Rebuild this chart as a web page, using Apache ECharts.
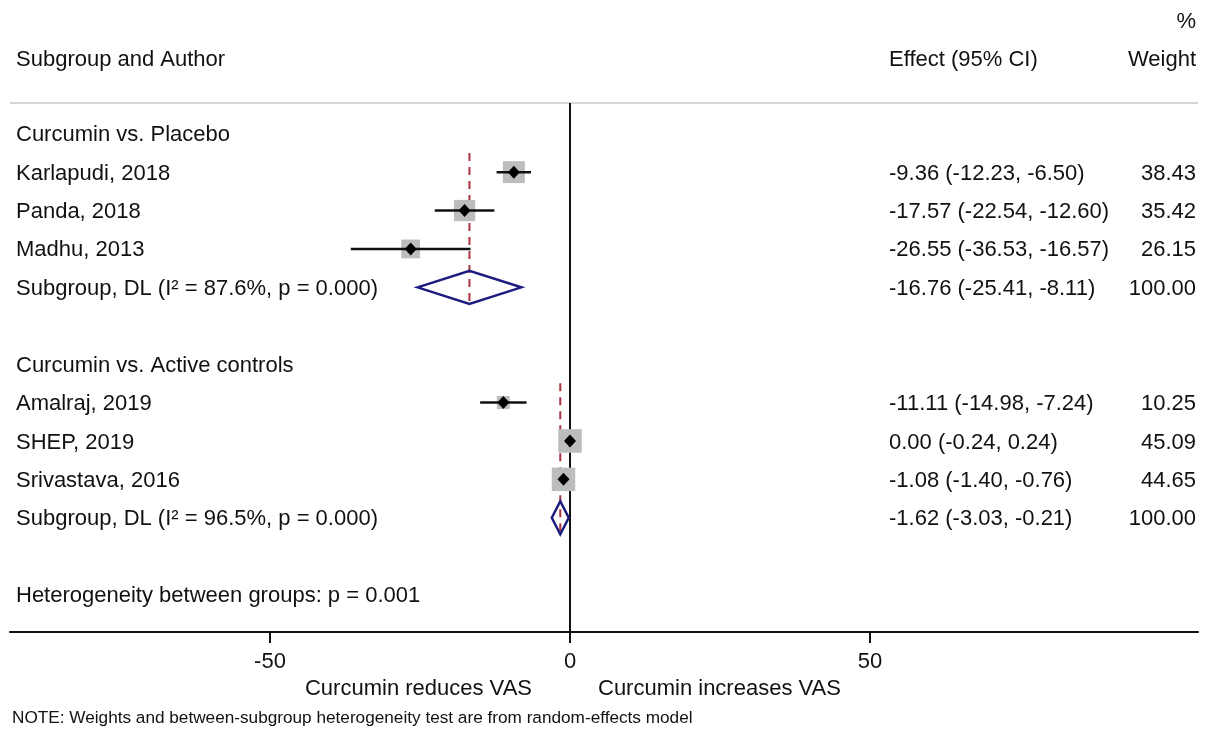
<!DOCTYPE html>
<html><head><meta charset="utf-8">
<script src="https://cdn.jsdelivr.net/npm/echarts@6/dist/echarts.min.js"></script>
<style>html,body{margin:0;padding:0;background:#fff}#c{width:1208px;height:733px}</style>
</head><body><div id="c"></div>
<script>
// ---- data ----
const studyNames = ["Karlapudi, 2018", "Panda, 2018", "Madhu, 2013", "Amalraj, 2019", "SHEP, 2019", "Srivastava, 2016"];
const studyRows = [1, 2, 3, 7, 8, 9];
const studyEffect = [-9.36, -17.57, -26.55, -11.11, 0.00, -1.08];
const studyLower = [-12.23, -22.54, -36.53, -14.98, -0.24, -1.40];
const studyUpper = [-6.50, -12.60, -16.57, -7.24, 0.24, -0.76];
const studyWeight = [38.43, 35.42, 26.15, 10.25, 45.09, 44.65];

const groupNames = ["Curcumin vs. Placebo", "Curcumin vs. Active controls"];
const groupRows = [0, 6];
const pooledLabels = ["Subgroup, DL (I\u00B2 = 87.6%, p = 0.000)", "Subgroup, DL (I\u00B2 = 96.5%, p = 0.000)"];
const pooledRows = [4, 10];
const pooledFirstStudyRow = [1, 7];
const pooledEffect = [-16.76, -1.62];
const pooledLower = [-25.41, -3.03];
const pooledUpper = [-8.11, -0.21];
const pooledWeight = [100.00, 100.00];

const hetLabel = "Heterogeneity between groups: p = 0.001";
const hetRow = 12;

const xTicks = [-50, 0, 50];
const headerLeft = "Subgroup and Author";
const headerEffect = "Effect (95% CI)";
const headerWeight1 = "%";
const headerWeight2 = "Weight";
const favLeft = "Curcumin reduces VAS";
const favRight = "Curcumin increases VAS";
const noteText = "NOTE: Weights and between-subgroup heterogeneity test are from random-effects model";

// ---- chart ----
const FAM = '"Liberation Sans", Arial, Helvetica, sans-serif';
const FONT = '22px ' + FAM;
const INK = '#111111';
const X_MIN = -93.333, X_MAX = 104.667, Y_MIN = -0.8, Y_MAX = 12.975;
const TXT_DY = 1.5;
const fmt = v => v.toFixed(2);

function txt(str, x, y, align, font) {
  return { type: 'text', style: { text: str, x: x, y: y + TXT_DY, fill: INK, font: font || FONT, textAlign: align || 'left', textVerticalAlign: 'middle' } };
}

// text rows
const textRows = [];
groupNames.forEach((g, i) => textRows.push({ row: groupRows[i], label: g, eff: '', w: '' }));
studyNames.forEach((s, i) => textRows.push({
  row: studyRows[i], label: s,
  eff: fmt(studyEffect[i]) + ' (' + fmt(studyLower[i]) + ', ' + fmt(studyUpper[i]) + ')',
  w: fmt(studyWeight[i])
}));
pooledLabels.forEach((s, i) => textRows.push({
  row: pooledRows[i], label: s,
  eff: fmt(pooledEffect[i]) + ' (' + fmt(pooledLower[i]) + ', ' + fmt(pooledUpper[i]) + ')',
  w: fmt(pooledWeight[i])
}));
textRows.push({ row: hetRow, label: hetLabel, eff: '', w: '' });

const chart = echarts.init(document.getElementById('c'), null, { renderer: 'canvas' });

chart.setOption({
  animation: false,
  backgroundColor: '#ffffff',
  grid: { left: 10, right: 10, top: 103, bottom: 101, containLabel: false },
  xAxis: {
    type: 'value', min: X_MIN, max: X_MAX,
    axisLine: { show: true, onZero: false, lineStyle: { color: INK, width: 2 } },
    axisTick: { show: true, customValues: xTicks, length: 11, lineStyle: { color: INK, width: 2 } },
    axisLabel: { show: true, customValues: xTicks, margin: 19, color: INK, fontSize: 22, fontFamily: FAM },
    splitLine: { show: false }
  },
  yAxis: {
    type: 'value', inverse: true, min: Y_MIN, max: Y_MAX, show: false, splitLine: { show: false }
  },
  graphic: [
    { type: 'line', shape: { x1: 10, y1: 103, x2: 1198, y2: 103 }, style: { stroke: '#c8c8c8', lineWidth: 1.5 } },
    txt(headerLeft, 16, 58, 'left'),
    txt(headerEffect, 889, 58, 'left'),
    txt(headerWeight1, 1196, 20, 'right'),
    txt(headerWeight2, 1196, 58, 'right'),
    txt(favLeft, 532, 687, 'right'),
    txt(favRight, 598, 687, 'left'),
    txt(noteText, 12, 717, 'left', '17.2px ' + FAM)
  ],
  series: [
    {
      type: 'custom', name: 'reflines', silent: true, clip: false,
      data: [[0, 0]],
      renderItem: function (params, api) {
        const children = [];
        const top = api.coord([0, Y_MIN]), bot = api.coord([0, Y_MAX]);
        children.push({ type: 'line', shape: { x1: top[0], y1: top[1], x2: bot[0], y2: bot[1] }, style: { stroke: INK, lineWidth: 2 } });
        pooledEffect.forEach((e, i) => {
          const a = api.coord([e, pooledFirstStudyRow[i] - 0.5]);
          const b = api.coord([e, pooledRows[i] + 0.45]);
          children.push({ type: 'line', shape: { x1: a[0], y1: a[1], x2: b[0], y2: b[1] }, style: { stroke: '#a83440', lineWidth: 2, lineDash: [8, 6] } });
        });
        return { type: 'group', children: children };
      }
    },
    {
      type: 'custom', name: 'studies', silent: true, clip: false,
      data: studyRows.map((r, i) => [studyEffect[i], r, studyLower[i], studyUpper[i], studyWeight[i]]),
      encode: { x: 0, y: 1 },
      renderItem: function (params, api) {
        const p = api.coord([api.value(0), api.value(1)]);
        const lo = api.coord([api.value(2), api.value(1)]);
        const hi = api.coord([api.value(3), api.value(1)]);
        const side = 3.4 + 3.0 * Math.sqrt(api.value(4));
        return {
          type: 'group', children: [
            { type: 'rect', shape: { x: p[0] - side / 2, y: p[1] - side / 2, width: side, height: side }, style: { fill: '#bdbdbd' } },
            { type: 'line', shape: { x1: lo[0], y1: lo[1], x2: hi[0], y2: hi[1] }, style: { stroke: INK, lineWidth: 2.5 } },
            { type: 'polygon', shape: { points: [[p[0] - 6, p[1]], [p[0], p[1] - 6.5], [p[0] + 6, p[1]], [p[0], p[1] + 6.5]] }, style: { fill: '#000' } }
          ]
        };
      }
    },
    {
      type: 'custom', name: 'pooled', silent: true, clip: false,
      data: pooledRows.map((r, i) => [pooledEffect[i], r, pooledLower[i], pooledUpper[i]]),
      encode: { x: 0, y: 1 },
      renderItem: function (params, api) {
        const r = api.value(1);
        const L = api.coord([api.value(2), r]);
        const T = api.coord([api.value(0), r - 0.43]);
        const R = api.coord([api.value(3), r]);
        const B = api.coord([api.value(0), r + 0.43]);
        return { type: 'polygon', shape: { points: [L, T, R, B] }, style: { fill: 'none', stroke: '#1c1c80', lineWidth: 2.5 } };
      }
    },
    {
      type: 'custom', name: 'texts', silent: true, clip: false,
      data: textRows.map(t => [0, t.row]),
      encode: { x: 0, y: 1 },
      renderItem: function (params, api) {
        const t = textRows[params.dataIndex];
        const cs = params.coordSys;
        const y = api.coord([0, t.row])[1];
        const ch = [txt(t.label, cs.x + 6, y, 'left')];
        if (t.eff) ch.push(txt(t.eff, cs.x + 879, y, 'left'));
        if (t.w) ch.push(txt(t.w, cs.x + cs.width - 2, y, 'right'));
        return { type: 'group', children: ch };
      }
    }
  ]
});
</script>
</body></html>
